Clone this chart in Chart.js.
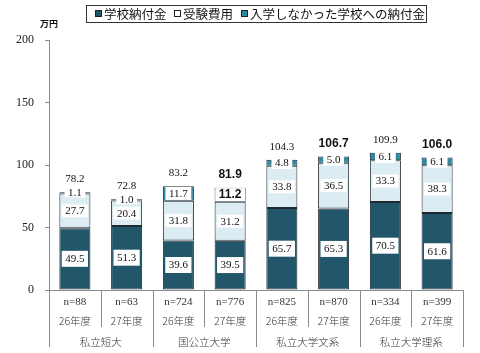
<!DOCTYPE html>
<html>
<head>
<meta charset="utf-8">
<script src="https://cdn.jsdelivr.net/npm/chart.js@4/dist/chart.umd.min.js"></script>
<style>
  html, body { margin: 0; padding: 0; background: #fff; }
  #chart { display: block; }
</style>
</head>
<body>
<canvas id="chart" width="480" height="353"></canvas>
<script>
// データ
const years = ["26年度", "27年度", "26年度", "27年度", "26年度", "27年度", "26年度", "27年度"];
const sampleSizes = ["n=88", "n=63", "n=724", "n=776", "n=825", "n=870", "n=334", "n=399"];
const groups = ["私立短大", "国公立大学", "私立大学文系", "私立大学理系"];
const seriesNames = ["学校納付金", "受験費用", "入学しなかった学校への納付金"];
const schoolFees = [49.5, 51.3, 39.6, 39.5, 65.7, 65.3, 70.5, 61.6];
const examFees = [27.7, 20.4, 31.8, 31.2, 33.8, 36.5, 33.3, 38.3];
const unusedFees = [1.1, 1.0, 11.7, 11.2, 4.8, 5.0, 6.1, 6.1];
const totals = [78.2, 72.8, 83.2, 81.9, 104.3, 106.7, 109.9, 106.0];
const yTicks = [0, 50, 100, 150, 200];

const DARK = "#22566a";
const LIGHT = "#dbecf3";
const TEAL = "#2e8aa2";
const SERIF = "'Liberation Serif', 'DejaVu Serif', serif";
const JP = "'Noto Sans CJK JP', sans-serif";
const boldTotals = [3, 5, 7];

const fmt = v => v.toFixed(1);

// 値ラベル、合計、x軸ラベル、凡例
const decorations = {
  id: "decorations",
  afterDatasetsDraw(chart) {
    const ctx = chart.ctx;
    const area = chart.chartArea;
    const x = chart.scales.x;
    ctx.save();

    // セグメントの値
    chart.data.datasets.forEach((ds, di) => {
      chart.getDatasetMeta(di).data.forEach((bar, i) => {
        const bold = di === 2 && i === 3;
        ctx.font = bold ? "bold 12px 'Liberation Sans', sans-serif" : "11px " + SERIF;
        const txt = fmt(ds.data[i]);
        const w = ctx.measureText(txt).width + 7;
        const h = di === 0 ? 16 : (di === 2 && ds.data[i] < 3 ? 9 : 13);
        const cy = (bar.y + bar.base) / 2;
        ctx.fillStyle = "#fff";
        ctx.fillRect(bar.x - w / 2, cy - h / 2, w, h);
        ctx.fillStyle = "#111";
        ctx.textAlign = "center";
        ctx.textBaseline = "middle";
        ctx.fillText(txt, bar.x, cy + 0.5);
      });
    });

    // 合計
    const top = chart.getDatasetMeta(2).data;
    totals.forEach((t, i) => {
      const bold = boldTotals.includes(i);
      ctx.font = bold ? "bold 12px 'Liberation Sans', sans-serif" : "11px " + SERIF;
      ctx.fillStyle = "#111";
      ctx.textAlign = "center";
      ctx.textBaseline = "middle";
      ctx.fillText(fmt(t), top[i].x, top[i].y - 13);
    });

    // x軸の区切り線とラベル
    const step = (area.right - area.left) / years.length;
    ctx.strokeStyle = "#8a8a8a";
    ctx.lineWidth = 1;
    for (let i = 0; i <= years.length; i++) {
      const px = Math.round(area.left + i * step) + 0.5;
      const bottom = i % 2 === 0 ? 347 : 327;
      ctx.beginPath();
      ctx.moveTo(px, area.bottom);
      ctx.lineTo(px, bottom);
      ctx.stroke();
    }
    ctx.fillStyle = "#333";
    ctx.textAlign = "center";
    ctx.textBaseline = "middle";
    years.forEach((yr, i) => {
      const px = x.getPixelForValue(i);
      ctx.font = "11px " + SERIF;
      ctx.fillText(sampleSizes[i], px, 302);
      ctx.font = "300 10.5px " + JP;
      ctx.fillText(yr, px, 321);
    });
    groups.forEach((g, gi) => {
      const px = area.left + (gi * 2 + 1) * step;
      ctx.font = "300 10.5px " + JP;
      ctx.fillText(g, px, 342);
    });

    // 単位
    ctx.fillStyle = "#111";
    ctx.font = "bold 9px " + JP;
    ctx.textAlign = "left";
    ctx.fillText("万円", 40, 24);

    // 凡例
    ctx.strokeStyle = "#333";
    ctx.lineWidth = 1;
    ctx.strokeRect(86.5, 5.5, 340, 17);
    ctx.font = "12.5px " + JP;
    ctx.textAlign = "left";
    ctx.textBaseline = "middle";
    const items = [
      { x: 95, fill: DARK },
      { x: 174, fill: "#fff" },
      { x: 241, fill: TEAL }
    ];
    items.forEach((it, k) => {
      ctx.fillStyle = it.fill;
      ctx.fillRect(it.x + 0.5, 10.5, 6, 6);
      ctx.strokeStyle = "#222";
      ctx.strokeRect(it.x + 0.5, 10.5, 6, 6);
      ctx.fillStyle = "#111";
      ctx.fillText(seriesNames[k], it.x + 9, 14);
    });
    ctx.restore();
  }
};

new Chart(document.getElementById("chart"), {
  type: "bar",
  data: {
    labels: years,
    datasets: [
      { label: seriesNames[0], data: schoolFees, backgroundColor: DARK },
      { label: seriesNames[1], data: examFees, backgroundColor: LIGHT },
      { label: seriesNames[2], data: unusedFees, backgroundColor: TEAL }
    ].map(ds => Object.assign(ds, {
      borderColor: "#1c2a30",
      borderWidth: 1,
      borderSkipped: false,
      barPercentage: 0.6,
      categoryPercentage: 1
    }))
  },
  options: {
    responsive: false,
    animation: false,
    devicePixelRatio: 1,
    layout: { padding: { top: 40, right: 17, left: 0, bottom: 0 } },
    plugins: { legend: { display: false }, tooltip: { enabled: false } },
    scales: {
      x: {
        stacked: true,
        ticks: { display: false },
        grid: { display: false },
        border: { color: "#8a8a8a" },
        afterFit: s => { s.height = 63; }
      },
      y: {
        stacked: true,
        min: 0,
        max: 200,
        afterBuildTicks: s => { s.ticks = yTicks.map(v => ({ value: v })); },
        ticks: { font: { family: SERIF, size: 12 }, color: "#222", padding: 11 },
        grid: { drawOnChartArea: false, tickLength: 4, color: "#8a8a8a" },
        border: { color: "#8a8a8a" },
        afterFit: s => { s.width = 49; }
      }
    }
  },
  plugins: [decorations]
});
</script>
</body>
</html>
